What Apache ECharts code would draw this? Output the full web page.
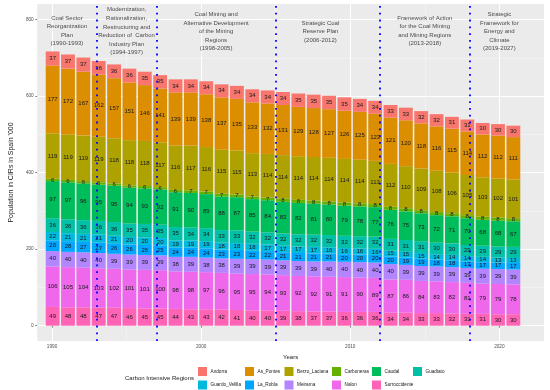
<!DOCTYPE html>
<html><head><meta charset="utf-8">
<script src="https://cdn.jsdelivr.net/npm/echarts@6/dist/echarts.min.js"></script>
<style>html,body{margin:0;padding:0;background:#fff}#c{width:550px;height:390px}</style>
</head><body><div id="c"></div>
<script>
const years = [1991,1992,1993,1994,1995,1996,1997,1998,1999,2000,2001,2002,2003,2004,2005,2006,2007,2008,2009,2010,2011,2012,2013,2014,2015,2016,2017,2018,2019,2020,2021];
const Andorra        = [37,37,37,36,36,36,35,35,34,34,34,34,34,34,34,34,35,35,35,35,34,34,33,33,32,32,31,31,30,30,30];
const As_Pontes      = [177,172,167,162,157,151,146,141,139,139,138,137,135,133,132,131,129,128,127,126,125,123,121,120,118,116,115,114,112,112,111];
const Berzo_Laciana  = [119,119,119,119,118,118,118,117,116,117,116,115,115,113,114,114,114,114,114,114,114,113,112,110,109,108,106,105,103,102,101];
const Carboneras     = [6,6,6,6,6,6,6,6,6,7,7,7,7,7,7,8,8,8,8,8,8,8,8,8,8,8,8,8,8,8,8];
const Caudal         = [97,97,96,95,95,94,93,92,91,90,89,88,87,85,84,83,82,81,80,79,78,77,76,75,73,72,71,70,68,68,67];
const Guadiato       = [36,36,36,36,36,35,35,35,35,34,34,33,33,32,32,32,32,32,32,32,32,32,31,31,31,30,30,29,29,29,29];
const Guardo_Velilla = [22,21,21,21,21,20,20,20,19,19,19,18,18,18,17,17,17,17,16,16,16,16,15,15,15,14,14,14,14,13,13];
const La_Robla       = [28,28,27,27,26,26,26,25,24,24,24,23,23,22,22,21,21,21,21,20,20,20,20,19,19,18,18,17,17,17,17];
const Meirama        = [40,40,40,40,39,39,39,39,38,39,38,38,39,39,39,39,39,39,40,40,40,40,40,39,39,39,39,39,39,39,39];
const Nalon          = [106,105,104,103,102,101,101,100,98,98,97,96,95,95,94,93,92,92,91,91,90,89,87,86,84,83,82,81,79,79,78];
const Surroccidente  = [49,48,48,47,47,46,45,45,44,43,43,42,41,40,40,39,38,37,37,36,36,36,34,34,33,33,32,31,31,30,30];

const regionNames  = ['Andorra','As_Pontes','Berzo_Laciana','Carboneras','Caudal','Guadiato','Guardo_Velilla','La_Robla','Meirama','Nalon','Surroccidente'];
const regionValues = [Andorra,As_Pontes,Berzo_Laciana,Carboneras,Caudal,Guadiato,Guardo_Velilla,La_Robla,Meirama,Nalon,Surroccidente];
const regionColors = ['#F8766D','#DB8E00','#AEA200','#64B200','#00BD5C','#00C1A7','#00BADE','#00A6FF','#B385FF','#EF67EB','#FF63B6'];

const xTicks = [1990,2000,2010,2020];
const xMinor = [1995,2005,2015];
const yTicks = [0,200,400,600,800];
const yMinor = [100,300,500,700];

const planEnds  = [1993,1997,2005,2012,2018];
const planTexts = [
  'Coal Sector\nReorganization\nPlan\n(1990-1993)',
  'Modernization,\nRationalization,\nRestructuring and\nReduction of  Carbon\nIndustry Plan\n(1994-1997)',
  'Coal Mining and\nAlternative Development\nof the Mining\nRegions\n(1998-2005)',
  'Strategic Coal\nReserve Plan\n(2006-2012)',
  'Framework of Action\nfor the Coal Mining\nand Mining Regions\n(2013-2018)',
  'Strategic\nFramework for\nEnergy and\nClimate\n(2019-2027)'
];
const planX = [1991,1995,2001,2008,2015,2020];
const planY = [771,770,769,769,771,769];

const legendColumns = [
  ['Andorra','Guardo_Velilla'],
  ['As_Pontes','La_Robla'],
  ['Berzo_Laciana','Meirama'],
  ['Carboneras','Nalon'],
  ['Caudal','Surroccidente'],
  ['Guadiato']
];
const legendLeft = [198,245,284.5,332,372,413];

const FONT = 'Liberation Sans, Arial, sans-serif';
const W = 550, H = 390;
const chart = echarts.init(document.getElementById('c'), null, {renderer:'canvas', width:W, height:H});

const xRange = [1989.005, 2022.995];
const yRange = [-40, 841];
const panel = {left:22, right:6, top:4, bottom:49};

const pxPerYear = (W - panel.left - panel.right) / (xRange[1] - xRange[0]);
const barLeft  = panel.left + (years[0] - 0.5 - xRange[0]) * pxPerYear;
const barRight = panel.right + (xRange[1] - (years[years.length-1] + 0.5)) * pxPerYear;

const stackOrder = regionNames.slice().reverse();
const barSeries = stackOrder.map(name => {
  const i = regionNames.indexOf(name);
  return {
    name: name, type:'bar', stack:'total', xAxisIndex:2, yAxisIndex:2,
    barWidth:'90%',
    itemStyle:{color: regionColors[i]},
    label:{show:true, position:'inside', fontSize:6, fontFamily:FONT, color:'#1a1a1a'},
    emphasis:{disabled:true},
    data: regionValues[i]
  };
});

const annotSeries = {
  type:'scatter', xAxisIndex:0, yAxisIndex:0, symbol:'circle', symbolSize:1, z:5,
  itemStyle:{color:'rgba(0,0,0,0)'},
  label:{show:true, position:'inside', fontSize:6, lineHeight:8.6, fontFamily:FONT, color:'#1a1a1a', align:'center',
         formatter: p => p.value[2]},
  emphasis:{disabled:true},
  data: planTexts.map((t,i) => [planX[i], planY[i], t]),
  markLine:{
    silent:true, symbol:['none','none'], label:{show:false}, z:10,
    lineStyle:{color:'#0000FF', type:[1.8,5], width:1.8, cap:'butt'},
    emphasis:{disabled:true},
    data: planEnds.map(v => ({xAxis:v}))
  }
};

const legends = legendColumns.map((col, j) => ({
  orient:'vertical', left: legendLeft[j], top:367, padding:0,
  itemWidth:9, itemHeight:9, itemGap:4.5, icon:'rect', selectedMode:false,
  textStyle:{fontSize:4.7, fontFamily:FONT, color:'#1a1a1a', padding:[0,0,0,-1.5]},
  data: col
}));

chart.setOption({
  backgroundColor:'#ffffff',
  animation:false,
  textStyle:{fontFamily:FONT},
  title:{text:'Carbon Intensive Regions', left:125, top:375, padding:0,
         textStyle:{fontSize:6, fontWeight:'normal', color:'#1a1a1a', fontFamily:FONT}},
  legend: legends,
  grid:[
    {left:panel.left, right:panel.right, top:panel.top, bottom:panel.bottom, show:true, backgroundColor:'#EBEBEB', borderWidth:0},
    {left:barLeft, right:barRight, top:panel.top, bottom:panel.bottom, show:false}
  ],
  xAxis:[
    {type:'value', gridIndex:0, min:xRange[0], max:xRange[1], axisLine:{show:false},
      name:'Years', nameLocation:'middle', nameGap:10.5,
      nameTextStyle:{fontSize:6, color:'#1a1a1a', fontFamily:FONT},
      axisTick:{show:true, length:2, lineStyle:{color:'#333333', width:0.6}, customValues:xTicks},
      axisLabel:{fontSize:4.7, color:'#4D4D4D', margin:3.5, customValues:xTicks, formatter: v => String(v)},
      splitLine:{show:true, lineStyle:{color:'#ffffff', width:1}}
    },
    {type:'value', gridIndex:0, min:xRange[0], max:xRange[1], position:'bottom', axisLine:{show:false},
      axisTick:{show:false, customValues:xMinor},
      axisLabel:{show:false, customValues:xMinor},
      splitLine:{show:true, lineStyle:{color:'#F7F7F7', width:0.6}}
    },
    {type:'category', gridIndex:1, data:years, boundaryGap:true, show:false}
  ],
  yAxis:[
    {type:'value', gridIndex:0, min:yRange[0], max:yRange[1], axisLine:{show:false},
      name:"Population in CIRs in Spain '000", nameLocation:'middle', nameGap:12,
      nameTextStyle:{fontSize:7, color:'#1a1a1a', fontFamily:FONT},
      axisTick:{show:true, length:2, lineStyle:{color:'#333333', width:0.6}, customValues:yTicks},
      axisLabel:{fontSize:4.7, color:'#4D4D4D', margin:3.5, customValues:yTicks, formatter: v => String(v)},
      splitLine:{show:true, lineStyle:{color:'#ffffff', width:1}}
    },
    {type:'value', gridIndex:0, min:yRange[0], max:yRange[1], position:'left', axisLine:{show:false},
      axisTick:{show:false, customValues:yMinor},
      axisLabel:{show:false, customValues:yMinor},
      splitLine:{show:true, lineStyle:{color:'#F7F7F7', width:0.6}}
    },
    {type:'value', gridIndex:1, min:yRange[0], max:yRange[1], show:false, splitLine:{show:false}}
  ],
  series: barSeries.concat([annotSeries])
});
</script>
</body></html>
